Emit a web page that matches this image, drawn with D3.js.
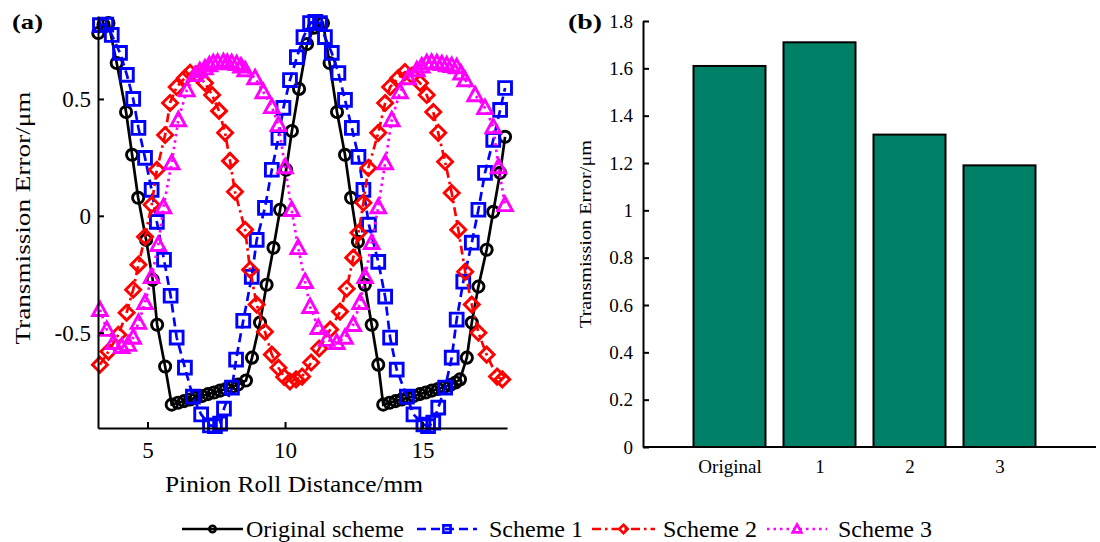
<!DOCTYPE html>
<html><head><meta charset="utf-8">
<script src="https://cdnjs.cloudflare.com/ajax/libs/d3/7.8.5/d3.min.js"></script>
<style>
body{margin:0;background:#fff}
text{font-family:"Liberation Serif","Times New Roman",Times,serif;fill:#000}
</style>
</head><body>
<svg id="chart" width="1100" height="542"></svg>
<script>
// ---------- DATA ----------
const originalScheme = [[3.21,0.782],[3.40,0.818],[3.58,0.825],[3.88,0.654],[4.22,0.444],[4.44,0.261],[4.66,0.077],[4.95,-0.103],[5.19,-0.274],[5.35,-0.466],[5.64,-0.645],[5.88,-0.808],[6.11,-0.800],[6.33,-0.793],[6.55,-0.786],[6.76,-0.778],[6.98,-0.771],[7.20,-0.763],[7.42,-0.756],[7.64,-0.748],[7.85,-0.741],[8.07,-0.733],[8.29,-0.722],[8.58,-0.705],[8.80,-0.607],[9.09,-0.457],[9.33,-0.295],[9.58,-0.137],[9.82,0.026],[10.04,0.197],[10.25,0.363],[10.51,0.543],[10.80,0.735],[11.05,0.805],[11.38,0.825],[11.62,0.654],[11.89,0.444],[12.18,0.261],[12.40,0.077],[12.65,-0.111],[12.90,-0.295],[13.15,-0.466],[13.39,-0.637],[13.57,-0.808],[13.80,-0.800],[14.02,-0.793],[14.24,-0.786],[14.46,-0.778],[14.68,-0.771],[14.90,-0.763],[15.12,-0.756],[15.34,-0.748],[15.56,-0.741],[15.78,-0.733],[16.00,-0.724],[16.20,-0.713],[16.36,-0.700],[16.61,-0.607],[16.79,-0.457],[17.03,-0.303],[17.33,-0.145],[17.57,0.017],[17.82,0.184],[18.00,0.338]];
const scheme1 = [[3.27,0.816],[3.50,0.818],[3.70,0.774],[4.00,0.697],[4.25,0.603],[4.48,0.500],[4.67,0.376],[4.91,0.248],[5.15,0.111],[5.34,-0.026],[5.60,-0.188],[5.84,-0.342],[6.06,-0.521],[6.36,-0.650],[6.65,-0.774],[6.95,-0.850],[7.27,-0.897],[7.45,-0.900],[7.64,-0.889],[7.78,-0.825],[8.07,-0.735],[8.22,-0.615],[8.48,-0.449],[8.79,-0.261],[8.97,-0.103],[9.27,0.034],[9.52,0.197],[9.76,0.333],[9.94,0.462],[10.18,0.581],[10.43,0.679],[10.67,0.765],[10.91,0.825],[11.10,0.830],[11.27,0.825],[11.45,0.765],[11.70,0.697],[11.94,0.611],[12.18,0.496],[12.43,0.376],[12.67,0.252],[12.85,0.111],[13.05,-0.038],[13.39,-0.197],[13.64,-0.346],[13.82,-0.521],[14.06,-0.658],[14.43,-0.774],[14.67,-0.850],[15.03,-0.893],[15.20,-0.900],[15.39,-0.885],[15.57,-0.821],[15.82,-0.735],[16.06,-0.607],[16.24,-0.444],[16.48,-0.282],[16.79,-0.115],[17.03,0.026],[17.27,0.184],[17.57,0.325],[17.82,0.453],[18.00,0.547]];
const scheme2 = [[3.27,-0.637],[3.58,-0.581],[3.94,-0.509],[4.24,-0.415],[4.48,-0.316],[4.67,-0.209],[4.91,-0.090],[5.15,0.047],[5.34,0.197],[5.64,0.346],[5.82,0.483],[6.06,0.551],[6.36,0.590],[6.55,0.612],[6.80,0.605],[7.09,0.568],[7.35,0.517],[7.60,0.449],[7.82,0.355],[8.00,0.235],[8.18,0.103],[8.55,-0.060],[8.73,-0.231],[8.97,-0.380],[9.27,-0.496],[9.52,-0.594],[9.76,-0.650],[9.97,-0.690],[10.18,-0.709],[10.40,-0.700],[10.62,-0.688],[10.95,-0.628],[11.24,-0.568],[11.64,-0.487],[12.00,-0.410],[12.24,-0.312],[12.48,-0.179],[12.67,-0.073],[12.85,0.056],[13.03,0.205],[13.39,0.355],[13.64,0.483],[13.82,0.551],[14.12,0.590],[14.36,0.615],[14.62,0.600],[14.91,0.568],[15.15,0.517],[15.39,0.444],[15.57,0.355],[15.82,0.231],[16.06,0.098],[16.30,-0.060],[16.55,-0.239],[16.79,-0.380],[17.03,-0.500],[17.33,-0.594],[17.71,-0.688],[17.90,-0.700]];
const scheme3 = [[3.27,-0.402],[3.52,-0.487],[3.76,-0.543],[4.06,-0.560],[4.30,-0.551],[4.48,-0.521],[4.67,-0.457],[4.91,-0.372],[5.15,-0.261],[5.39,-0.124],[5.58,0.038],[5.88,0.226],[6.12,0.410],[6.43,0.538],[6.73,0.603],[6.90,0.620],[7.09,0.632],[7.25,0.645],[7.39,0.654],[7.55,0.656],[7.76,0.658],[7.90,0.656],[8.06,0.654],[8.24,0.650],[8.40,0.640],[8.55,0.624],[8.91,0.590],[9.21,0.530],[9.52,0.466],[9.76,0.389],[10.00,0.209],[10.24,0.026],[10.48,-0.137],[10.73,-0.282],[10.91,-0.389],[11.21,-0.479],[11.52,-0.530],[11.88,-0.543],[12.18,-0.521],[12.48,-0.466],[12.73,-0.372],[12.91,-0.261],[13.15,-0.115],[13.39,0.038],[13.64,0.226],[13.88,0.410],[14.18,0.530],[14.48,0.590],[14.79,0.624],[14.97,0.640],[15.15,0.654],[15.33,0.656],[15.52,0.654],[15.70,0.650],[15.88,0.645],[16.06,0.642],[16.24,0.637],[16.40,0.610],[16.55,0.581],[16.91,0.517],[17.27,0.462],[17.57,0.380],[17.76,0.209],[18.00,0.047]];
const seriesNames = ["Original scheme","Scheme 1","Scheme 2","Scheme 3"];
const lineXTicks = [5,10,15];
const lineYTicks = [-0.5,0,0.5];

const barCategories = ["Original","1","2","3"];
const barValues = [1.61,1.71,1.32,1.19];
const barYTicks = [0,0.2,0.4,0.6,0.8,1,1.2,1.4,1.6,1.8];

// ---------- STYLES ----------
const styles = [
  {color:"#000000", dash:null, marker:"circle"},
  {color:"#0000ff", dash:"9,5", marker:"square"},
  {color:"#ff0000", dash:"9,4,2.5,4", marker:"diamond"},
  {color:"#ff00ff", dash:"2.5,4", marker:"triangle"}
];
function markerPath(type, s){
  if(type==="circle") return d3.symbol(d3.symbolCircle, Math.PI*s*s)();
  if(type==="square") return `M${-s},${-s}h${2*s}v${2*s}h${-2*s}Z`;
  if(type==="diamond"){const d=s*1.25;return `M0,${-d}L${d},0L0,${d}L${-d},0Z`;}
  const t=s*1.2; return `M0,${-t}L${t*0.95},${t*0.75}L${-t*0.95},${t*0.75}Z`;
}

const svg = d3.select("#chart");

// ---------- LEFT PLOT ----------
const x = d3.scaleLinear().domain([3.2,18.07]).range([98,507]);
const y = d3.scaleLinear().domain([-0.908,0.855]).range([428,16]);

const allSeries = [originalScheme, scheme1, scheme2, scheme3];
const lineGen = d3.line().x(d=>x(d[0])).y(d=>y(d[1]));
const markerSizes = [5.6,6.4,6.0,6.4];
allSeries.forEach((data,i)=>{
  const st = styles[i];
  const g = svg.append("g");
  g.append("path").attr("d", lineGen(data)).attr("fill","none")
    .attr("stroke", st.color).attr("stroke-width",2.7)
    .attr("stroke-dasharray", st.dash);
  g.selectAll("path.m").data(data).enter().append("path").attr("class","m")
    .attr("transform", d=>`translate(${x(d[0])},${y(d[1])})`)
    .attr("d", markerPath(st.marker, markerSizes[i]))
    .attr("fill","none").attr("stroke", st.color).attr("stroke-width",2.9);
});

const ax1 = svg.append("g").attr("transform","translate(0,428)")
  .call(d3.axisBottom(x).tickValues(lineXTicks).tickSizeInner(-6).tickSizeOuter(0).tickPadding(14).tickFormat(d=>String(d)));
const ay1 = svg.append("g").attr("transform","translate(98,0)")
  .call(d3.axisLeft(y).tickValues(lineYTicks).tickSizeInner(-6).tickSizeOuter(0).tickPadding(7).tickFormat(d=>String(d)));
[ax1,ay1].forEach(a=>{
  a.attr("font-family",null);
  a.selectAll("path,line").attr("stroke","#000").attr("stroke-width",2);
  a.selectAll("text").style("font-size","23px");
});

svg.append("text").attr("x",294).attr("y",492).attr("text-anchor","middle")
  .style("font-size","23px").attr("textLength",258).attr("lengthAdjust","spacingAndGlyphs")
  .text("Pinion Roll Distance/mm");
svg.append("text").attr("transform","translate(30,218) rotate(-90)").attr("text-anchor","middle")
  .style("font-size","22px").attr("textLength",253).attr("lengthAdjust","spacingAndGlyphs")
  .text("Transmission Error/μm");
svg.append("text").attr("x",12).attr("y",29).style("font-size","22px").style("font-weight","bold")
  .attr("textLength",31).attr("lengthAdjust","spacingAndGlyphs").text("(a)");

// ---------- RIGHT PLOT ----------
const xb = d3.scaleLinear().domain([0,5]).range([639.5,1089.5]);
const yb = d3.scaleLinear().domain([0,1.8]).range([447,21]);
const barW = xb(0.8)-xb(0);
svg.append("g").selectAll("rect").data(barValues).enter().append("rect")
  .attr("x",(d,i)=>xb(i+1)-barW/2).attr("width",barW)
  .attr("y",d=>yb(d)).attr("height",d=>yb(0)-yb(d))
  .attr("fill","#008066").attr("stroke","#000").attr("stroke-width",2);

const ayb = svg.append("g").attr("transform","translate(643,0)")
  .call(d3.axisLeft(yb).tickValues(barYTicks).tickSizeInner(-6).tickSizeOuter(0).tickPadding(10).tickFormat(d=>String(d)));
ayb.attr("font-family",null);
ayb.selectAll("path,line").attr("stroke","#000").attr("stroke-width",2);
ayb.selectAll("text").style("font-size","19px");

svg.append("line").attr("x1",643).attr("x2",1096).attr("y1",yb(0)).attr("y2",yb(0))
  .attr("stroke","#000").attr("stroke-width",2);
const axb = svg.append("g").attr("transform",`translate(0,${yb(0)})`)
  .call(d3.axisBottom(xb).tickValues([1,2,3,4]).tickSize(0).tickPadding(13).tickFormat(d=>barCategories[d-1]));
axb.attr("font-family",null);
axb.select(".domain").remove();
axb.selectAll("text").style("font-size","19px");

svg.append("text").attr("transform","translate(591,234) rotate(-90)").attr("text-anchor","middle")
  .style("font-size","17px").attr("textLength",188).attr("lengthAdjust","spacingAndGlyphs")
  .text("Transmission Error/μm");
svg.append("text").attr("x",568).attr("y",29).style("font-size","22px").style("font-weight","bold")
  .attr("textLength",34).attr("lengthAdjust","spacingAndGlyphs").text("(b)");

// ---------- LEGEND ----------
const legendItems = [
  {x0:182,x1:243,tx:246},
  {x0:417,x1:477,tx:489},
  {x0:592,x1:655,tx:663},
  {x0:767,x1:827,tx:838}
];
const legY = 529;
const legMarkerSizes = [3.2,3.6,3.4,3.8];
legendItems.forEach((it,i)=>{
  const st = styles[i];
  const g = svg.append("g");
  g.append("line").attr("x1",it.x0).attr("x2",it.x1).attr("y1",legY).attr("y2",legY)
    .attr("stroke",st.color).attr("stroke-width",2.6).attr("stroke-dasharray",st.dash);
  g.append("path").attr("transform",`translate(${(it.x0+it.x1)/2},${legY})`)
    .attr("d",markerPath(st.marker,legMarkerSizes[i])).attr("fill","none")
    .attr("stroke",st.color).attr("stroke-width",2.6);
  g.append("text").attr("x",it.tx).attr("y",537).style("font-size","24px").text(seriesNames[i]);
});
</script>
</body></html>
